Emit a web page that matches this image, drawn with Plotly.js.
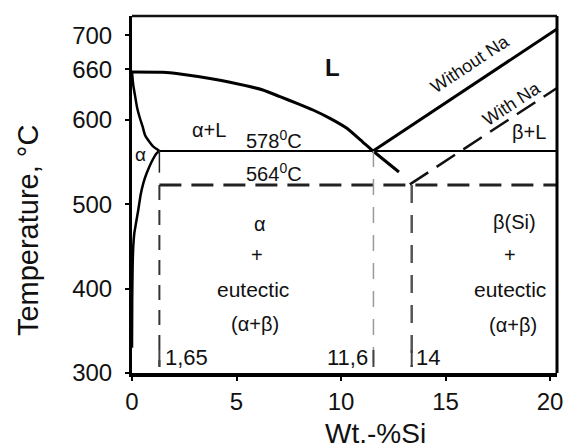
<!DOCTYPE html>
<html><head><meta charset="utf-8">
<script src="https://cdn.plot.ly/plotly-3.0.1.min.js"></script>
<style>html,body{margin:0;padding:0;background:#fff}#chart{width:575px;height:448px}</style>
</head><body><div id="chart"></div>
<script>
// ---- axis ticks ----
const tempTicks = [300, 400, 500, 600, 660, 700];
const siTicks = [0, 5, 10, 15, 20];
const siRange = [0, 20.33];
const tempRange = [300, 723.1];
const xTitle = 'Wt.-%Si';
const yTitle = 'Temperature, °C';

// ---- phase boundaries ----
const liquidusSi = [0, 1.48, 2.30, 3.87, 4.69, 6.26, 7.08, 7.89, 8.66, 9.47, 10.28, 11.05, 11.53, 12.77];
const liquidusT  = [656.7, 656.4, 654.3, 648.4, 644.5, 635.4, 627.5, 619.6, 611.7, 601.8, 590.0, 573.4, 563.1, 538.2];

const solidusSi = [0, 0.06, 0.14, 0.25, 0.38, 0.51, 0.62, 0.83, 1.02, 1.31];
const solidusT  = [656.7, 641.3, 629.5, 613.7, 601.9, 591.9, 582.1, 574.1, 568.2, 563.1];

const solvusSi = [1.31, 1.18, 0.94, 0.70, 0.54, 0.42, 0.30, 0.19, 0.11, 0.06, 0.03, 0.01, 0.0];
const solvusT  = [563.1, 560.4, 550.4, 536.7, 524.8, 512.1, 493.2, 477.4, 465.6, 449.7, 426.0, 386.5, 330];

const eutecticSi = [1.31, 20.33];
const eutecticT  = [563.1, 563.1];
const eutDropSi = [1.31, 1.31];
const eutDropT  = [563.1, 537.4];

const withoutNaSi = [11.53, 20.33];
const withoutNaT  = [563.1, 707.7];

const withNaSi = [13.29, 20.33];
const withNaT  = [523.5, 637.8];

const modEutSi = [1.31, 20.33];
const modEutT  = [522.8, 522.8];

const v165Si = [1.31, 1.31];
const v165T  = [522.8, 307.1];
const v116Si = [11.55, 11.55];
const v116T  = [563.1, 307.1];
const v14Si = [13.38, 13.38];
const v14T  = [522.8, 307.1];
const barSi = [1.31, 1.31, null, 11.55, 11.55, null, 13.38, 13.38];
const barT  = [327.3, 307.1, null, 327.3, 307.1, null, 327.3, 307.1];

// ---- labels ----
const labelText = ['L', 'α+L', '578<sup>0</sup>C', '564<sup>0</sup>C', 'α',
  'α', '+', 'eutectic', '(α+β)',
  'β(Si)', '+', 'eutectic', '(α+β)',
  'Without Na', 'With Na', 'β+L', '1,65', '11,6', '14'];
const labelSi = [9.61, 3.66, 6.79, 6.79, 0.43,
  6.12, 5.98, 5.79, 5.88,
  18.32, 18.08, 18.08, 18.22,
  16.16, 18.13, 18.99, 2.63, 10.31, 14.16];
const labelT = [661.5, 588.0, 577.3, 538.2, 559.5,
  476.6, 439.8, 398.4, 358.1,
  479.0, 439.8, 398.4, 356.9,
  666.2, 619.4, 585.6, 317.8, 317.8, 317.8];
const labelSize = [24, 20, 20, 20, 19, 20, 20, 21, 20, 20, 20, 21, 20, 18, 18, 20, 22, 22, 22];
const labelAngle = [0,0,0,0,0,0,0,0,0,0,0,0,0,-33.5,-33,0,0,0,0];

const FONT = 'Liberation Sans, Arial, sans-serif';

function line(x, y, color, width, dash) {
  return {x: x, y: y, type: 'scatter', mode: 'lines', hoverinfo: 'skip',
    line: {color: color, width: width, dash: dash || 'solid', shape: 'linear'}};
}
function curve(x, y, color, width) {
  return {x: x, y: y, type: 'scatter', mode: 'lines', hoverinfo: 'skip',
    line: {color: color, width: width, shape: 'spline', smoothing: 0.5}};
}

const traces = [
  curve(liquidusSi, liquidusT, '#000', 3),
  curve(solidusSi, solidusT, '#000', 2.5),
  curve(solvusSi, solvusT, '#000', 2.5),
  line(eutecticSi, eutecticT, '#000', 2),
  line(eutDropSi, eutDropT, '#222', 1.5),
  line(withoutNaSi, withoutNaT, '#000', 3),
  line(withNaSi, withNaT, '#111', 2.5, '22px,10px'),
  line(modEutSi, modEutT, '#222', 3, '22px,10px'),
  line(v165Si, v165T, '#333', 2, '15px,10px'),
  line(v116Si, v116T, '#999', 1.5, '16px,12px'),
  line(v14Si, v14T, '#555', 2.5, '18px,12px'),
  line(barSi, barT, '#444', 2)
];

const annotations = labelText.map((t, i) => ({
  x: labelSi[i], y: labelT[i], xref: 'x', yref: 'y', text: t, showarrow: false,
  xanchor: 'center', yanchor: 'middle', textangle: labelAngle[i],
  font: {family: FONT, size: labelSize[i], color: '#111', weight: i === 0 ? 'bold' : 'normal'}
}));
// axis titles, placed where the reference puts them
annotations.push({
  xref: 'paper', yref: 'paper', x: 0.574, y: -0.17, text: xTitle, showarrow: false,
  xanchor: 'center', yanchor: 'middle', font: {family: FONT, size: 28, color: '#111'}
});
annotations.push({
  xref: 'paper', yref: 'paper', x: -0.245, y: 0.40, text: yTitle, showarrow: false,
  xanchor: 'center', yanchor: 'middle', textangle: -90, font: {family: FONT, size: 29, color: '#111'}
});

const layout = {
  width: 575, height: 448,
  margin: {l: 132, r: 18, t: 16, b: 75, pad: 0},
  paper_bgcolor: '#fff', plot_bgcolor: '#fff',
  showlegend: false,
  font: {family: FONT, color: '#111'},
  xaxis: {
    range: siRange, tickvals: siTicks, ticktext: siTicks.map(String),
    showgrid: false, zeroline: false, showline: true, linecolor: '#000', linewidth: 4,
    ticks: 'outside', ticklen: 4, tickwidth: 2, tickcolor: '#000',
    tickfont: {family: FONT, size: 24, color: '#111'}, ticklabelstandoff: 0
  },
  yaxis: {
    range: tempRange, tickvals: tempTicks, ticktext: tempTicks.map(String),
    showgrid: false, zeroline: false, showline: true, linecolor: '#000', linewidth: 3,
    ticks: 'outside', ticklen: 4, tickwidth: 2, tickcolor: '#000',
    tickfont: {family: FONT, size: 24, color: '#111'}, ticklabelstandoff: 8
  },
  shapes: [
    {type: 'line', xref: 'paper', yref: 'paper', x0: 0, x1: 1, y0: 1, y1: 1, line: {color: '#111', width: 2.5}},
    {type: 'line', xref: 'paper', yref: 'paper', x0: 1, x1: 1, y0: 0, y1: 1, line: {color: '#000', width: 3}}
  ],
  annotations: annotations
};

Plotly.newPlot('chart', traces, layout, {staticPlot: true, displayModeBar: false});
</script></body></html>
